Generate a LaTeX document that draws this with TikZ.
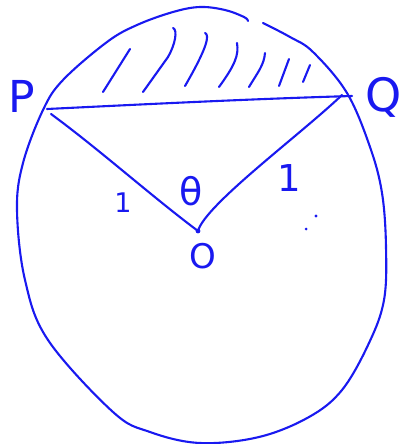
\documentclass[tikz,border=0pt]{standalone}
\usepackage{fontspec}
\setmainfont{DejaVu Sans}
\definecolor{pen}{RGB}{25,25,240}
\begin{document}
\begin{tikzpicture}[x=1pt,y=-1pt,
  ink/.style={draw=pen,line width=2.1pt,line cap=round,line join=round},
  lab/.style={text=pen,inner sep=0pt,font=\fontsize{#1}{#1}\selectfont},
  lab/.default=30]
\useasboundingbox (0,0) rectangle (409,444);
% circle (hand drawn, small gap at top)
\draw[ink] plot[smooth,tension=0.6] coordinates {
 (263,23) (290,37) (313,52) (347,93) (370,147) (382,193) (386,247) (384,300)
 (369,343) (342,390) (309,417) (259,437) (200,443) (150,432) (113,412)
 (48,340) (25,280) (17,210) (23,163) (43,110) (63,80) (107,42)
 (137,25) (173,12) (200,7) (225,10) (244,17) (248,21)};
% key points
\coordinate (P) at (47,109);
\coordinate (Q) at (352,96);
\coordinate (O) at (198,231);
\coordinate (Pr) at (51,114);
\coordinate (Qr) at (342,95);
% chord
\draw[ink] (P) .. controls (150,104) and (250,99) .. (Q);
% radii
\draw[ink] (Pr) .. controls (100,150) and (150,195) .. (O);
\draw[ink] (Qr) .. controls (300,135) and (205,205) .. (O);
\fill[pen] (O) circle (2.4);
% hatching
\draw[ink] (130,49) -- (103,92);
\draw[ink] (173,28) .. controls (178,30) and (175,45) .. (168,57) -- (143,92);
\draw[ink] (205,33) .. controls (210,35) and (207,48) .. (185,86);
\draw[ink] (237,43) .. controls (239,55) and (235,65) .. (219,87);
\draw[ink] (265,53) .. controls (264,65) and (258,72) .. (249,87);
\draw[ink] (289,59) -- (279,86);
\draw[ink] (310,65) -- (303,82);
% labels
\node[lab=44] (lP) at (22,96) {P};
\node[lab=46] (lQ) at (384,97) {Q};
\node[lab=38] (lth) at (191,191) {θ};
\node[lab=27] (l1a) at (123,203) {1};
\node[lab=37] (l1b) at (289,178) {1};
\node[lab=34] (lO) at (203,256) {O};
% dots
\fill[pen] (316,216) circle (1.7);
\fill[pen] (306,229) circle (1.5);
\end{tikzpicture}
\end{document}
